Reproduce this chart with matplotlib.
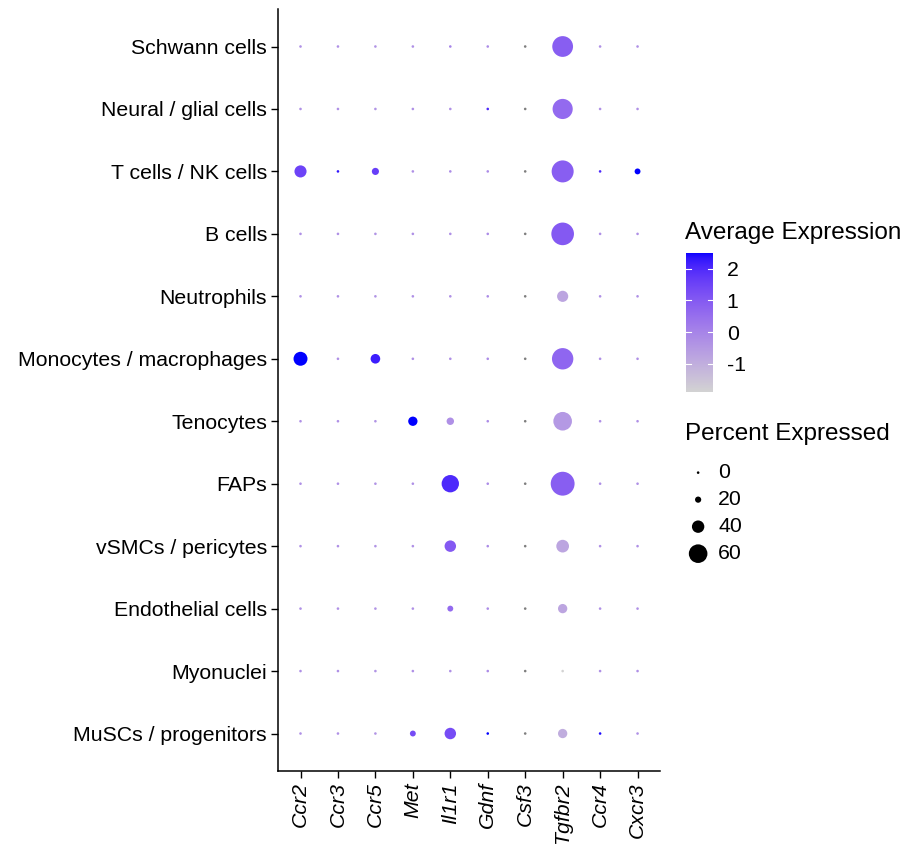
import numpy as np
import matplotlib
matplotlib.use("Agg")
import matplotlib.pyplot as plt
from matplotlib.colors import ListedColormap, Normalize

plt.rcParams['font.family'] = ['Liberation Sans', 'DejaVu Sans']
plt.rcParams['axes.unicode_minus'] = False

genes = ['Ccr2', 'Ccr3', 'Ccr5', 'Met', 'Il1r1', 'Gdnf', 'Csf3', 'Tgfbr2', 'Ccr4', 'Cxcr3']
cell_types = ['Schwann cells', 'Neural / glial cells', 'T cells / NK cells', 'B cells',
              'Neutrophils', 'Monocytes / macrophages', 'Tenocytes', 'FAPs',
              'vSMCs / pericytes', 'Endothelial cells', 'Myonuclei', 'MuSCs / progenitors']

nan = np.nan
# scaled average expression (rows = cell types, cols = genes)
avg_exp = np.array([
    [-0.3, -0.3, -0.4, -0.3, 0.0, -0.2, nan, 0.9, -0.3, -0.3],
    [-0.3, -0.3, -0.4, -0.3, -0.3, 2.0, nan, 0.6, -0.3, -0.3],
    [1.5, 2.3, 1.6, -0.3, -0.2, -0.2, nan, 0.9, 2.0, 2.5],
    [-0.3, -0.3, -0.4, -0.3, -0.3, -0.2, nan, 1.0, -0.3, -0.3],
    [-0.3, -0.3, -0.4, -0.3, -0.3, -0.2, nan, -0.8, -0.3, -0.3],
    [2.5, -0.3, 2.2, -0.3, -0.3, -0.2, nan, 0.7, -0.3, -0.3],
    [-0.3, -0.3, -0.4, 2.5, -0.3, -0.2, nan, -0.5, -0.3, -0.3],
    [-0.3, -0.3, -0.4, -0.3, 2.0, -0.2, nan, 0.9, -0.3, -0.3],
    [-0.3, -0.3, -0.4, -0.3, 1.0, -0.2, nan, -0.8, -0.3, -0.3],
    [-0.3, -0.3, -0.4, -0.3, 0.6, -0.2, nan, -0.8, -0.3, -0.3],
    [-0.3, -0.3, -0.4, -0.3, -0.3, -0.2, nan, -1.9, -0.3, -0.3],
    [-0.3, -0.3, -0.4, 1.3, 1.3, 2.5, nan, -1.0, 2.4, -0.3],
])

pct_exp = np.array([
    [0, 0, 0, 0, 2, 0, 0, 67, 0, 0],
    [0, 0, 0, 0, 0, 1, 0, 65, 0, 0],
    [39, 1, 23, 0, 1.5, 0, 0, 71, 1, 19],
    [0, 0, 0, 0, 0, 0, 0, 73, 0, 0],
    [0, 0, 0, 0, 0, 0, 0, 36, 0, 0],
    [45, 0, 31, 0, 0, 0, 0, 69, 0, 0],
    [0, 0, 0, 30, 24, 0, 0, 60, 0, 0],
    [0, 0, 0, 0, 56, 0, 0, 77, 0, 0],
    [0, 0, 0, 0, 37, 0, 0, 41, 0, 0],
    [0, 0, 0, 0, 19, 0, 0, 30, 0, 0],
    [0, 0, 0, 0, 0, 0, 0, 1, 0, 0],
    [0, 0, 0, 19, 37, 1, 0, 30, 1, 0],
])

exp_min, exp_max = -1.9, 2.5
exp_ticks = [-1, 0, 1, 2]
pct_breaks = [0, 20, 40, 60]


# lightgrey -> blue gradient, interpolated in Lab like ggplot
def srgb_to_lab(rgb):
    c = np.asarray(rgb, float)
    c = np.where(c > 0.04045, ((c + 0.055) / 1.055) ** 2.4, c / 12.92)
    m = np.array([[0.4124, 0.3576, 0.1805], [0.2126, 0.7152, 0.0722], [0.0193, 0.1192, 0.9505]])
    xyz = m @ c / np.array([0.95047, 1.0, 1.08883])
    f = np.where(xyz > 0.008856, np.cbrt(xyz), 7.787 * xyz + 16 / 116)
    return np.array([116 * f[1] - 16, 500 * (f[0] - f[1]), 200 * (f[1] - f[2])])


def lab_to_srgb(lab):
    L, a, b = lab
    fy = (L + 16) / 116
    fx = fy + a / 500
    fz = fy - b / 200
    f = np.array([fx, fy, fz])
    xyz = np.where(f ** 3 > 0.008856, f ** 3, (f - 16 / 116) / 7.787) * np.array([0.95047, 1.0, 1.08883])
    m = np.array([[3.2406, -1.5372, -0.4986], [-0.9689, 1.8758, 0.0415], [0.0557, -0.2040, 1.0570]])
    c = m @ xyz
    c = np.where(c > 0.0031308, 1.055 * np.clip(c, 0, None) ** (1 / 2.4) - 0.055, 12.92 * c)
    return np.clip(c, 0, 1)


lab0 = srgb_to_lab([211 / 255, 211 / 255, 211 / 255])
lab1 = srgb_to_lab([0, 0, 1])
cmap = ListedColormap([lab_to_srgb(lab0 + t * (lab1 - lab0)) for t in np.linspace(0, 1, 256)])
cmap.set_bad('#7f7f7f')
norm = Normalize(exp_min, exp_max)


def pct_to_size(p):
    d_px = np.maximum(0.31 * np.asarray(p, float), 2.6)
    return (d_px * 72 / 100) ** 2


fig = plt.figure(figsize=(9.11, 8.44), dpi=100)
ax = fig.add_axes([0.3052, 0.0865, 0.4193, 0.9028])

xx, yy = np.meshgrid(np.arange(len(genes)), np.arange(len(cell_types)))
colors = cmap(norm(np.ma.masked_invalid(avg_exp)).ravel())
ax.scatter(xx.ravel(), yy.ravel(), s=pct_to_size(pct_exp.ravel()), c=colors, linewidths=0)

ax.set_xlim(-0.6, len(genes) - 0.4)
ax.set_ylim(len(cell_types) - 0.4, -0.6)
ax.set_xticks(range(len(genes)))
ax.set_xticklabels(genes, rotation=90, fontstyle='italic', fontsize=15.3, va='top')
ax.set_yticks(range(len(cell_types)))
ax.set_yticklabels(cell_types, fontsize=15.3)
ax.tick_params(length=5, width=1, color='black', pad=3)
for side in ['top', 'right']:
    ax.spines[side].set_visible(False)
for side in ['left', 'bottom']:
    ax.spines[side].set_linewidth(1.1)

# colour bar
fig.text(0.752, 0.724, 'Average Expression', fontsize=17.5, va='center')
cax = fig.add_axes([0.753, 0.5355, 0.0296, 0.1647])
grad = np.linspace(exp_min, exp_max, 300)[:, None]
cax.imshow(grad, aspect='auto', cmap=cmap, norm=norm, origin='lower',
           extent=[0, 1, exp_min, exp_max])
cax.set_xlim(0, 1)
cax.set_ylim(exp_min, exp_max)
cax.set_xticks([])
cax.set_yticks(exp_ticks)
cax.yaxis.tick_right()
cax.tick_params(axis='y', length=0, labelsize=15.3, pad=10)
for t in exp_ticks:
    cax.plot([0, 0.2], [t, t], color='white', lw=0.8)
    cax.plot([0.8, 1], [t, t], color='white', lw=0.8)
for s in cax.spines.values():
    s.set_visible(False)

# size legend
fig.text(0.752, 0.486, 'Percent Expressed', fontsize=17.5, va='center')
lax = fig.add_axes([0.753, 0.328, 0.08, 0.128])
lax.scatter(np.zeros(len(pct_breaks)), range(len(pct_breaks)), s=pct_to_size(pct_breaks),
            c='black', linewidths=0)
for i, b in enumerate(pct_breaks):
    lax.text(1.0, i, str(b), fontsize=15.3, va='center')
lax.set_xlim(-0.6, 3)
lax.set_ylim(len(pct_breaks) - 0.5, -0.5)
lax.axis('off')

fig.savefig('out.png', dpi=100)
